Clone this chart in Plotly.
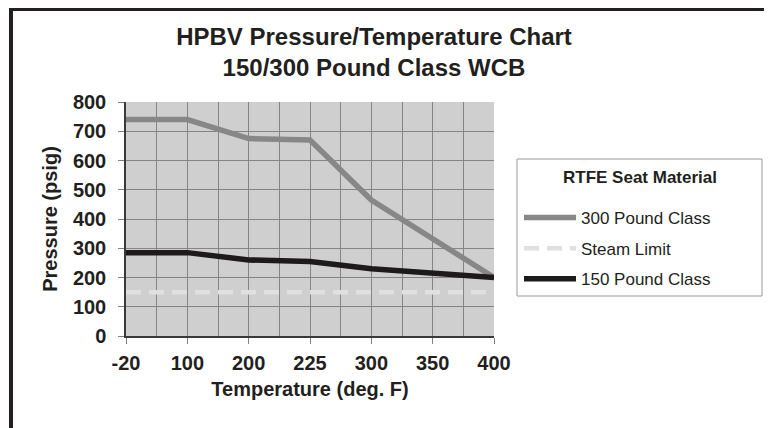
import plotly.graph_objects as go

# ---- data ----
temps = ["-20", "100", "200", "225", "300", "350", "400"]
class300 = [740, 740, 675, 670, 465, 335, 200]
steam = [150, 150, 150, 150, 150, 150, 150]
class150 = [285, 285, 260, 255, 230, 215, 200]
y_ticks = [0, 100, 200, 300, 400, 500, 600, 700, 800]

FONT = "Liberation Sans, Arial, sans-serif"
TXT = "#231f20"
x_idx = list(range(len(temps)))

fig = go.Figure()
fig.add_trace(go.Scatter(x=x_idx, y=class300, mode="lines", name="300 Pound Class",
                         legendgroup="a",
                         line=dict(color="#878787", width=5.5)))
fig.add_trace(go.Scatter(x=x_idx, y=steam, mode="lines", name="Steam Limit",
                         legendgroup="b",
                         line=dict(color="#e0e0e0", width=4.5, dash="15px,8px")))
fig.add_trace(go.Scatter(x=x_idx, y=class150, mode="lines", name="150 Pound Class",
                         legendgroup="c",
                         line=dict(color="#1c1a1b", width=5.5)))

# page body adds an 8px margin, so the figure is drawn 8px smaller and
# positions below are given in screen (window) pixels
OFF = 8
W, H = 772 - OFF, 428 - OFF
L, R, T, B = 126, 494, 102, 336  # plot area in window pixels
pw, ph = R - L, B - T

def px(x):
    return (x - L) / pw

def py(y):
    return (B - y) / ph

fig.update_layout(
    width=W, height=H,
    margin=dict(l=L - OFF, r=W - (R - OFF), t=T - OFF, b=H - (B - OFF), autoexpand=False),
    paper_bgcolor="white",
    plot_bgcolor="#cfcfd0",
    font=dict(family=FONT, color=TXT),
    title=dict(text="<b>HPBV Pressure/Temperature Chart<br>150/300 Pound Class WCB</b>",
               x=(374 - OFF) / W, xanchor="center", y=1 - (45 - OFF) / H, yanchor="middle",
               font=dict(size=24, color=TXT)),
    showlegend=True,
    legend=dict(x=px(519), xanchor="left", y=py(200), yanchor="top",
                bgcolor="rgba(0,0,0,0)", borderwidth=0, tracegroupgap=5.5,
                font=dict(size=17, color=TXT), itemwidth=52),
    xaxis=dict(range=[0, 6], tickmode="array", tickvals=x_idx, ticktext=temps,
               showgrid=True, gridcolor="#858585", gridwidth=1,
               minor=dict(tickmode="linear", tick0=0, dtick=0.5, showgrid=True,
                          gridcolor="#858585", gridwidth=1, ticklen=0),
               showline=True, linecolor="#3a3a3a", linewidth=1.5,
               ticks="outside", ticklen=6, tickcolor="#808080",
               ticklabelstandoff=2, zeroline=False,
               tickfont=dict(size=20, color=TXT, family=FONT, weight="bold"),
               title=dict(text="<b>Temperature (deg. F)</b>", standoff=9,
                          font=dict(size=20, color=TXT))),
    yaxis=dict(range=[0, 800], tickmode="array", tickvals=y_ticks,
               showgrid=True, gridcolor="#858585", gridwidth=1,
               showline=True, linecolor="#3a3a3a", linewidth=1.5,
               ticks="outside", ticklen=6, tickcolor="#808080",
               ticklabelstandoff=8, zeroline=False,
               tickfont=dict(size=20, color=TXT, family=FONT, weight="bold"),
               title=dict(text="<b>Pressure (psig)</b>", standoff=10,
                          font=dict(size=20, color=TXT))),
)

# legend box and heading
fig.add_shape(type="rect", xref="paper", yref="paper",
              x0=px(517), x1=px(762), y0=py(296), y1=py(159),
              line=dict(color="#9a9a9a", width=1), fillcolor="rgba(0,0,0,0)", layer="above")
fig.add_annotation(text="<b>RTFE Seat Material</b>", xref="paper", yref="paper",
                   x=px(640), y=py(177), xanchor="center", yanchor="middle",
                   showarrow=False, font=dict(size=17, color=TXT))

# outer chart frame
fig.add_shape(type="rect", xref="paper", yref="paper",
              x0=px(11), x1=px(768), y0=py(440), y1=py(9),
              line=dict(color="#231f20", width=4), fillcolor="rgba(0,0,0,0)", layer="above")

fig.write_html("out.html")
